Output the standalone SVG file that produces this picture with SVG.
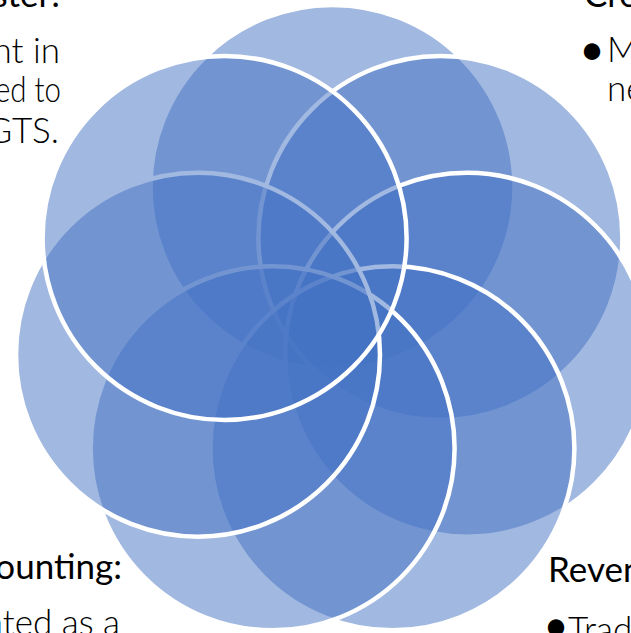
<svg xmlns="http://www.w3.org/2000/svg" width="631" height="633" viewBox="0 0 631 633">
  <style>
    .ring { fill: #4472C4; fill-opacity: 0.5; stroke: #FFFFFF; stroke-width: 4.5; }
    .head { font-family: Lato, "Open Sans", "Liberation Sans", sans-serif; font-size: 35px; font-weight: 400; fill: #000000; }
    .body { font-family: Lato, "Open Sans", "Liberation Sans", sans-serif; font-size: 35px; font-weight: 300; fill: #000000; }
    .dot { font-family: Lato, "Open Sans", "Liberation Sans", sans-serif; font-size: 44px; font-weight: 400; fill: #000000; text-anchor: middle; }
  </style>
  <rect width="631" height="633" fill="#FFFFFF"/>

  <!-- seven overlapping circles, drawn clockwise from the top -->
  <g id="circles">
    <g id="circle-1"><circle class="ring" cx="332.5" cy="187" r="182"/></g>
    <g id="circle-2"><circle class="ring" cx="440.4" cy="238" r="182"/></g>
    <g id="circle-3"><circle class="ring" cx="467" cy="354.7" r="182"/></g>
    <g id="circle-4"><circle class="ring" cx="392.4" cy="448.3" r="182"/></g>
    <g id="circle-5"><circle class="ring" cx="272.6" cy="448.3" r="182"/></g>
    <g id="circle-6"><circle class="ring" cx="198" cy="354.7" r="182"/></g>
    <g id="circle-7"><circle class="ring" cx="224.6" cy="238" r="182"/></g>
  </g>

  <g id="connectors"/>

  <!-- side captions, cut by the frame -->
  <g id="label-top-left">
    <text class="head" x="60" y="7" text-anchor="end">ster:</text>
    <text class="body" x="60" y="63" text-anchor="end">nt in</text>
    <text class="body" x="61" y="102" text-anchor="end" textLength="66" lengthAdjust="spacingAndGlyphs">ed to</text>
    <text class="body" x="59" y="143" text-anchor="end">GTS.</text>
  </g>
  <g id="label-top-right">
    <text class="head" x="584" y="7">Cre</text>
    <text class="dot" x="592" y="65">•</text>
    <text class="body" x="607" y="62">M</text>
    <text class="body" x="607" y="101">ne</text>
  </g>
  <g id="label-bottom-left">
    <text class="head" x="122" y="579" text-anchor="end">ounting:</text>
    <text class="body" x="120" y="635" text-anchor="end">ated as a</text>
  </g>
  <g id="label-bottom-right">
    <text class="head" x="548" y="582">Reven</text>
    <text class="dot" x="556" y="641">•</text>
    <text class="body" x="568" y="642">Trad</text>
  </g>
</svg>
